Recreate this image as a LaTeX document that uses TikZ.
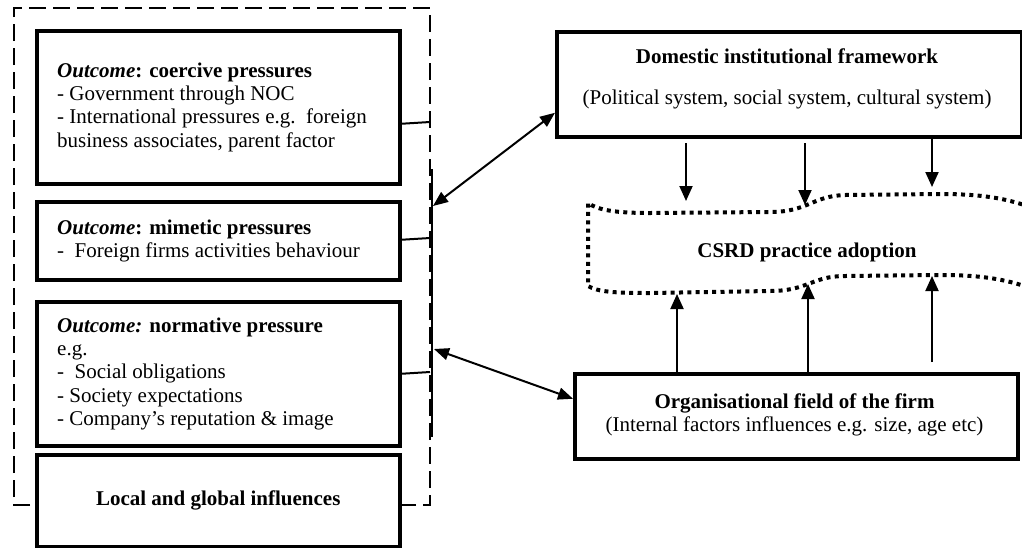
\documentclass[tikz,border=0pt]{standalone}
\usepackage{fontspec}
\setmainfont{Liberation Serif}
\usetikzlibrary{arrows.meta,calc}
\begin{document}
\begin{tikzpicture}[x=1pt,y=-1pt,
  font=\fontsize{21}{23.3}\selectfont,
  box/.style={draw, line width=3.5pt, rectangle, inner sep=0pt, anchor=north west},
  txt/.style={align=left, inner sep=0pt, anchor=west},
  ctr/.style={align=center, inner sep=0pt},
  link/.style={line width=2pt},
  frame/.style={line width=2pt, dash pattern=on 17pt off 7pt},
  dotline/.style={line width=4pt, dash pattern=on 4pt off 4.3pt},
  tip/.style={line width=2pt, -{Triangle[length=15pt,width=13pt]}},
  both/.style={line width=2pt, {Triangle[length=15pt,width=12pt]}-{Triangle[length=15pt,width=12pt]}}
]
\useasboundingbox (0,0) rectangle (1022,547);

% dashed frame around the pressure boxes
\draw[frame] (30,505) -- (14,505) -- (14,8) -- (430,8) -- (430,505) -- (400,505);

% left column
\node[box, minimum width=363pt, minimum height=153pt] (coer) at (35,29) {};
\node[txt] (coert) at ($(coer.west)+(22,0)$)
  {\textbf{\textit{Outcome}: coercive pressures}\\
   - Government through NOC\\
   - International pressures e.g.\ \ foreign\\
   business associates, parent factor};

\node[box, minimum width=363pt, minimum height=78pt] (mim) at (35,200) {};
\node[txt] (mimt) at ($(mim.west)+(22,0)$)
  {\textbf{\textit{Outcome}: mimetic pressures}\\
   -\ \ Foreign firms activities behaviour};

\node[box, minimum width=363pt, minimum height=144pt] (norm) at (35,300) {};
\node[txt] (normt) at ($(norm.west)+(22,0)$)
  {\textbf{\textit{Outcome:} normative pressure}\\
   e.g.\\
   -\ \ Social obligations\\
   - Society expectations\\
   - Company’s reputation \& image};

\node[box, minimum width=363pt, minimum height=92pt] (loc) at (35,453) {};
\node[ctr] (loct) at (loc.center) {\textbf{Local and global influences}};

% links from the boxes to the frame
\coordinate (f1) at (430,122);
\coordinate (f2) at (430,238);
\coordinate (f3) at (430,372);
\draw[link] ([yshift=-16.5pt]coer.east) -- (f1);
\draw[link] ([yshift=1pt]mim.east) -- (f2);
\draw[link] (norm.east) -- (f3);

% solid bar along the frame
\coordinate (bt) at (432,169);
\coordinate (bb) at (432,437);
\draw[link] (bt) -- (bb);

% right side
\node[box, minimum width=465pt, minimum height=105pt] (dom) at (555,30) {};
\node[ctr] (domt) at (787,56) {\textbf{Domestic institutional framework}};
\node[ctr] (doms) at (787,99) {(Political system, social system, cultural system)};

\node[box, minimum width=443pt, minimum height=85pt] (org) at (573,372) {};
\node[ctr] (orgt) at (794.5,403) {\textbf{Organisational field of the firm}};
\node[ctr] (orgs) at (794.5,426) {(Internal factors influences e.g. size, age etc)};

% CSRD wavy banner
\draw[dotline]
  (1030,207) .. controls (1005,198) and (980,194) .. (940,194)
  -- (845,195) .. controls (812,196) and (808,212) .. (770,212)
  -- (650,213) .. controls (615,213) and (598,210) .. (588,203)
  -- (588,286) .. controls (598,292) and (615,293) .. (650,293)
  -- (770,291) .. controls (808,291) and (812,276) .. (845,276)
  -- (940,275) .. controls (980,275) and (1005,279) .. (1030,288);
\node[ctr] (csrd) at (807,252) {\textbf{CSRD practice adoption}};

% double-headed links
\coordinate (j1) at (433,206);
\coordinate (j2) at (434,349);
\draw[both] (j1) -- ([yshift=-28.5pt]dom.west);
\draw[both] (j2) -- ([yshift=17.5pt]org.west);

% framework influences on adoption
\coordinate (a1) at (686,143); \coordinate (b1) at (686,201);
\coordinate (a2) at (805,143); \coordinate (b2) at (805,205);
\coordinate (a3) at (932,137); \coordinate (b3) at (932,187);
\draw[tip] (a1) -- (b1);
\draw[tip] (a2) -- (b2);
\draw[tip] (a3) -- (b3);

% organisational field influences on adoption
\coordinate (c1) at (677,294);
\coordinate (c2) at (808,284);
\coordinate (c3) at (932,276);
\coordinate (e3) at (932,362);
\draw[tip] (org.north -| c1) -- (c1);
\draw[tip] (org.north -| c2) -- (c2);
\draw[tip] (e3) -- (c3);
\end{tikzpicture}
\end{document}
